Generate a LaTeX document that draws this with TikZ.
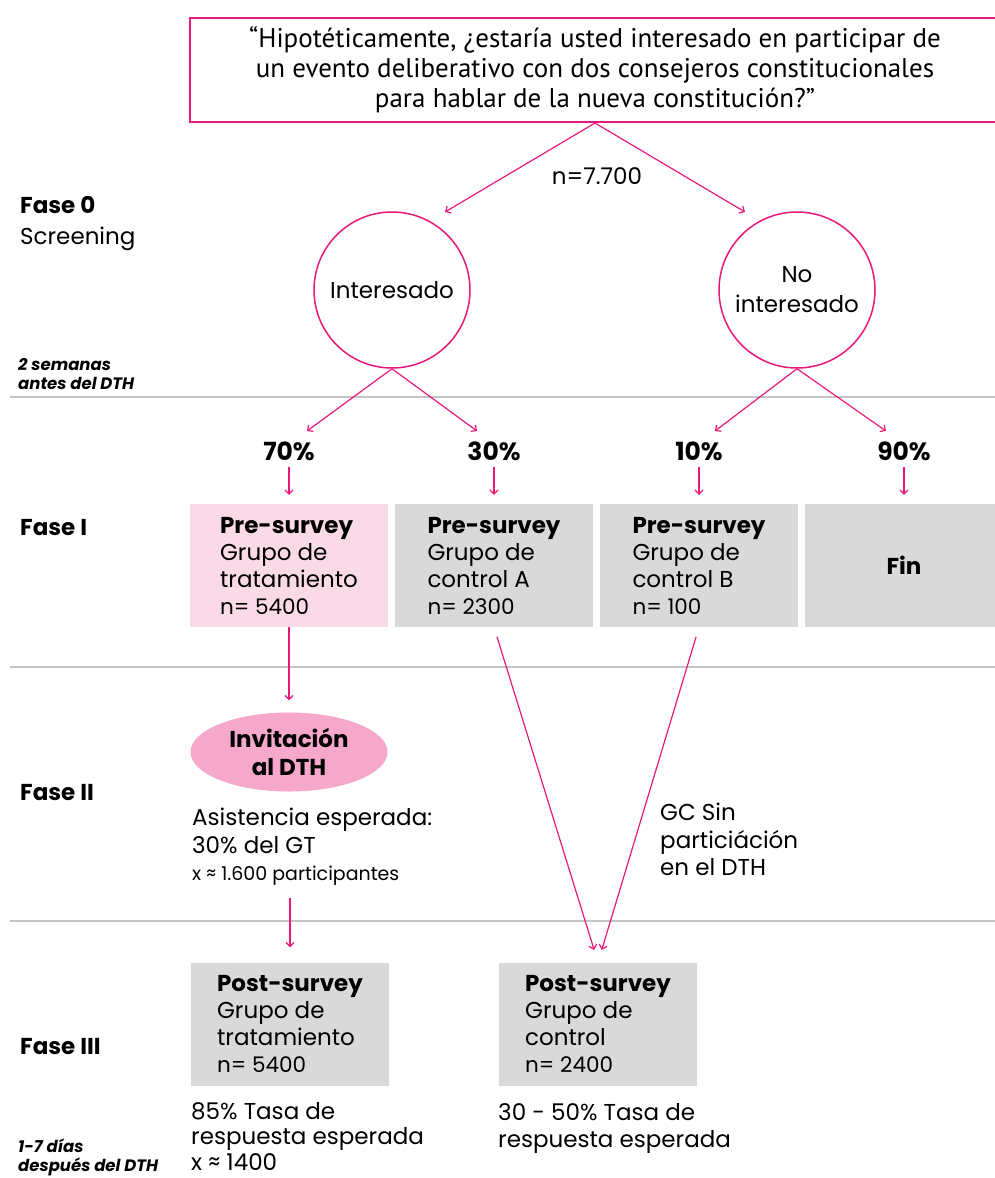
\documentclass[tikz,border=0pt]{standalone}
\usepackage{fontspec}
\setmainfont{Poppins}
\newfontfamily\qfont{PT Sans}
\usetikzlibrary{arrows.meta,shapes.geometric}
\definecolor{mag}{HTML}{E8197A}
\definecolor{pinkfill}{HTML}{FBDAE7}
\definecolor{ellfill}{HTML}{F5A8C9}
\definecolor{boxgrey}{HTML}{D9D9D9}
\definecolor{rulegrey}{HTML}{C4C4C4}
\begin{document}
\begin{tikzpicture}[x=1pt,y=-1pt,
  arr/.style={draw=mag, line width=1.2pt, -{Straight Barb[length=4pt,width=8pt]}},
  rulel/.style={draw=rulegrey, line width=1.3pt},
  mainf/.style={font=\fontsize{23}{27}\selectfont},
  txt/.style={anchor=north west, inner sep=0pt, align=left, font=\fontsize{23}{27.5}\selectfont},
  note/.style={anchor=north west, inner sep=0pt, align=left, font=\bfseries\itshape\fontsize{16.5}{19}\selectfont},
  phase/.style={anchor=base west, inner sep=0pt, font=\bfseries\fontsize{23}{27}\selectfont},
  stage/.style={rectangle, fill=boxgrey, minimum width=198pt, minimum height=123pt, inner sep=0pt, align=left, font=\fontsize{23}{27}\selectfont},
  circ/.style={circle, draw=mag, line width=1.5pt, minimum size=156pt, inner sep=0pt, align=center, font=\fontsize{23}{30}\selectfont},
  pct/.style={inner sep=0pt, font=\bfseries\fontsize{25}{30}\selectfont},
  qbox/.style={rectangle, draw=mag, line width=2pt, minimum width=810pt, minimum height=104pt, inner sep=0pt, align=center, font=\qfont\fontsize{27}{30}\selectfont}
]
\useasboundingbox (0,0) rectangle (995,1178);

% phase rules
\draw[rulel] (10,397) -- (995,397);
\draw[rulel] (10,667) -- (995,667);
\draw[rulel] (10,921) -- (995,921);

% question
\node[qbox] (q) at (595,70) {“Hipotéticamente, ¿estaría usted interesado en participar de\\un evento deliberativo con dos consejeros constitucionales\\para hablar de la nueva constitución?”};
\node[mainf, inner sep=0pt] (n) at (597,176) {n=7.700};

% circles
\node[circ] (int) at (392,290) {Interesado};
\node[circ] (noint) at (797,290) {No\\interesado};
\coordinate (ta) at (445,212);
\coordinate (tb) at (745,212);
\draw[arr] (q.south) -- (ta);
\draw[arr] (q.south) -- (tb);

% percentages
\node[pct] (p70) at (289,451) {70\%};
\node[pct] (p30) at (494,451) {30\%};
\node[pct] (p10) at (699,451) {10\%};
\node[pct] (p90) at (904,451) {90\%};
\coordinate (c70) at (307,431);
\coordinate (c30) at (477,431);
\coordinate (c10) at (715,431);
\coordinate (c90) at (886,431);
\draw[arr] (int.south) -- (c70);
\draw[arr] (int.south) -- (c30);
\draw[arr] (noint.south) -- (c10);
\draw[arr] (noint.south) -- (c90);

% pre-survey boxes
\node[stage, fill=pinkfill] (pre1) at (289,565.5) {\textbf{Pre-survey}\\Grupo de\\tratamiento\\{\fontsize{21.5}{25}\selectfont n= 5400}};
\node[stage] (preA) at (494,565.5) {\textbf{Pre-survey}\\Grupo de\\control A\\{\fontsize{21.5}{25}\selectfont n= 2300}};
\node[stage] (preB) at (699,565.5) {\textbf{Pre-survey}\\Grupo de\\control B\\{\fontsize{21.5}{25}\selectfont n= 100}};
\node[stage, align=center] (fin) at (904,565.5) {\textbf{Fin}};

\draw[arr, shorten <=6pt, shorten >=9pt] (p70) -- (pre1);
\draw[arr, shorten <=6pt, shorten >=9pt] (p30) -- (preA);
\draw[arr, shorten <=6pt, shorten >=9pt] (p10) -- (preB);
\draw[arr, shorten <=6pt, shorten >=9pt] (p90) -- (fin);

% phase II
\node[ellipse, fill=ellfill, minimum width=197pt, minimum height=79pt, inner sep=0pt, align=center, font=\bfseries\fontsize{23}{28}\selectfont] (inv) at (289,752) {Invitación\\al DTH};
\draw[arr, shorten >=12pt] (pre1) -- (inv);
\node[txt] (asis) at (192,808) {Asistencia esperada:\\30\% del GT\\{\fontsize{19}{22}\selectfont x ≈ 1.600 participantes}};
\node[txt] (gc) at (660,803) {GC Sin\\particiáción\\en el DTH};

% post-survey boxes
\node[stage] (post1) at (290,1024) {\textbf{Post-survey}\\Grupo de\\tratamiento\\{\fontsize{21.5}{25}\selectfont n= 5400}};
\node[stage] (post2) at (598,1024) {\textbf{Post-survey}\\Grupo de\\control\\{\fontsize{21.5}{25}\selectfont n= 2400}};
\draw[arr, shorten <=12pt, shorten >=15pt] (post1.north |- asis.south) -- (post1.north);
\draw[arr, shorten <=10pt, shorten >=13pt] (preA.south) -- (post2.north);
\draw[arr, shorten <=10pt, shorten >=13pt] (preB.south) -- (post2.north);

\node[txt, font=\fontsize{23}{25.5}\selectfont] (r1) at (191,1102) {85\% Tasa de\\respuesta esperada\\x ≈ 1400};
\node[txt] (r2) at (498,1103) {30 - 50\% Tasa de\\respuesta esperada};

% left phase labels
\node[txt] (f0) at (20,196) {\textbf{Fase 0}\\[4pt]Screening};
\node[note] (w0) at (18,358) {2 semanas\\antes del DTH};
\node[phase] (f1) at (20,535) {Fase I};
\node[phase] (f2) at (20,800) {Fase II};
\node[phase] (f3) at (20,1054) {Fase III};
\node[note] (w3) at (18,1139) {1-7 días\\después del DTH};
\end{tikzpicture}
\end{document}
